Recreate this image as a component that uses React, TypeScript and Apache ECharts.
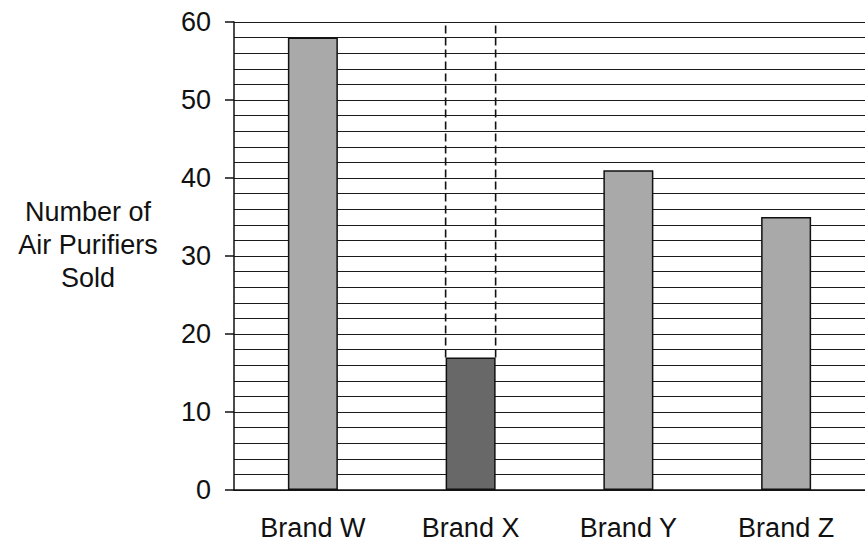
import React, { useEffect, useRef } from "react";
import * as echarts from "echarts";

const categories = ["Brand W", "Brand X", "Brand Y", "Brand Z"];
const sold = [58, 17, 41, 35];
const yMin = 0;
const yMax = 60;
const yStep = 10;
const highlightedBrand = "Brand X";
const yTitle = "Number of\nAir Purifiers\nSold";

const BAR_WIDTH = 50;
const FONT = "'Liberation Sans', Arial, sans-serif";

export default function App() {
  const ref = useRef<HTMLDivElement>(null);
  useEffect(() => {
    if (!ref.current) return;
    const chart = echarts.init(ref.current, null, { renderer: "svg" });
    const hiIdx = categories.indexOf(highlightedBrand);
    chart.setOption({
      animation: false,
      backgroundColor: "#ffffff",
      grid: { left: 234, right: -6, top: 22, bottom: 60 },
      xAxis: {
        type: "category",
        data: categories,
        axisLine: { show: true, lineStyle: { color: "#111", width: 1.5 } },
        axisTick: { show: false },
        axisLabel: { color: "#111", fontSize: 27, fontFamily: FONT, margin: 24 },
        splitLine: { show: false },
      },
      yAxis: {
        type: "value",
        min: yMin,
        max: yMax,
        interval: yStep,
        axisLine: { show: true, lineStyle: { color: "#111", width: 1.5 } },
        axisTick: { show: true, inside: false, length: 9, lineStyle: { color: "#111", width: 1.5 } },
        axisLabel: { color: "#111", fontSize: 27, fontFamily: FONT, margin: 23 },
        splitLine: { show: true, lineStyle: { color: "#1a1a1a", width: 1.2 } },
        minorTick: { show: false, splitNumber: 5 },
        minorSplitLine: { show: true, lineStyle: { color: "#1a1a1a", width: 1.2 } },
      },
      graphic: [
        {
          type: "text",
          x: 88,
          y: 245,
          style: {
            text: yTitle,
            fill: "#111",
            font: `27px ${FONT}`,
            textAlign: "center",
            textVerticalAlign: "middle",
            lineHeight: 33,
          },
        },
      ],
      series: [
        {
          type: "bar",
          barWidth: BAR_WIDTH,
          z: 3,
          data: sold.map((v, i) => ({
            value: v,
            itemStyle: {
              color: i === hiIdx ? "#686868" : "#a9a9a9",
              borderColor: "#111",
              borderWidth: 1.5,
            },
          })),
        },
        {
          type: "custom",
          z: 4,
          data: [[hiIdx, sold[hiIdx], yMax]],
          encode: { x: 0, y: [1, 2] },
          renderItem: (params: any, api: any) => {
            const c = api.value(0);
            const lo = api.coord([c, api.value(1)]);
            const hi = api.coord([c, api.value(2)]);
            const half = BAR_WIDTH / 2;
            const style = { stroke: "#111", lineWidth: 1.6, lineDash: [8, 4] };
            return {
              type: "group",
              children: [
                { type: "line", shape: { x1: lo[0] - half, y1: lo[1], x2: hi[0] - half, y2: hi[1] }, style },
                { type: "line", shape: { x1: lo[0] + half, y1: lo[1], x2: hi[0] + half, y2: hi[1] }, style },
              ],
            };
          },
        },
      ],
    });
    return () => chart.dispose();
  }, []);
  return <div ref={ref} style={{ width: 865, height: 550, position: "absolute", left: 0, top: 0 }} />;
}
